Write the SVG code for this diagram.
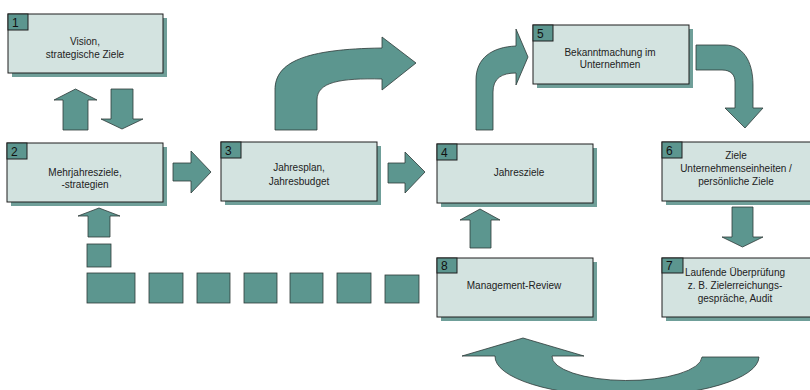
<svg xmlns="http://www.w3.org/2000/svg" width="810" height="390" viewBox="0 0 810 390">
<style>
.box{fill:#d3e3e0;stroke:#1e1e1e;stroke-width:1}
.shadow{fill:#6f9f99}
.num{fill:#5c968f;stroke:#1e1e1e;stroke-width:1}
.numt{font-family:"Liberation Sans",Arial,sans-serif;font-size:12px;fill:#111}
.t{font-family:"Liberation Sans",Arial,sans-serif;font-size:10px;fill:#222;text-anchor:middle}
.ar{fill:#5c968f;stroke:#2e3a38;stroke-width:0.8;stroke-linejoin:miter}
</style>
<rect width="810" height="390" fill="#ffffff"/>
<g id="connectors">
<polygon class="ar" points="75.5,89 97,100 88,100 88,130 63,130 63,100 54,100"/>
<polygon class="ar" points="111,89 133,89 133,119 143,119 122,129 101,119 111,119"/>
<polygon class="ar" points="173,163 191,163 191,151 211,172 191,193 191,181 173,181"/>
<polygon class="ar" points="388,163 405,163 405,152 425,172 405,193 405,183 388,183"/>
<polygon class="ar" points="99,208 120,216 110,216 110,237 88,237 88,216 78,216"/>
<polygon class="ar" points="480,209 500,220 491,220 491,248 470,248 470,220 460,220"/>
<polygon class="ar" points="732,207 753,207 753,237 763,237 742.5,247 722,237 732,237"/>
<path class="ar" d="M275,130 L275,90 C275,62 305,49 382,48 L382,37 L416,63 L382,90 L382,79 C340,78 317,82 317,100 L317,130 Z"/>
<path class="ar" d="M476,130 L476,80 C476,58 492,47 516,46 L516,29 L528,57 L516,85 L516,73 C502,73 493,78 493,92 L493,130 Z"/>
<path class="ar" d="M696,45 L725,45 C742,45 753,60 753,85 L753,108 L763,108 L745,128 L725,108 L735,108 L735,82 C735,75 731,70 722,70 L696,70 Z"/>
<path class="ar" d="M462,356 L523,338 L584,356 L552,356 A75,24 0 0 0 702,357 L759,357 A132,40 0 0 1 495,356 Z"/>
<rect class="ar" x="87" y="244" width="24" height="23"/>
<rect class="ar" x="87" y="273" width="48" height="30"/>
<rect class="ar" x="149" y="273" width="34" height="30"/>
<rect class="ar" x="197" y="273" width="33" height="30"/>
<rect class="ar" x="244" y="273" width="33" height="30"/>
<rect class="ar" x="290" y="273" width="33" height="30"/>
<rect class="ar" x="337" y="273" width="34" height="30"/>
<rect class="ar" x="385" y="275" width="34" height="28"/>
</g>
<g id="node1">
<rect class="shadow" x="12" y="18" width="155" height="59"/>
<rect class="box" x="8" y="14" width="155" height="59"/>
<rect class="num" x="8" y="14" width="20" height="16"/>
<text class="numt" x="12" y="27">1</text>
<text class="t" x="85" y="45">Vision,</text>
<text class="t" x="85" y="58">strategische Ziele</text>
</g>
<g id="node2">
<rect class="shadow" x="11" y="147" width="156" height="59"/>
<rect class="box" x="7" y="143" width="156" height="59"/>
<rect class="num" x="7" y="143" width="20" height="16"/>
<text class="numt" x="11" y="156">2</text>
<text class="t" x="85" y="175.5">Mehrjahresziele,</text>
<text class="t" x="85" y="187.5">-strategien</text>
</g>
<g id="node3">
<rect class="shadow" x="225" y="146" width="156" height="59"/>
<rect class="box" x="221" y="142" width="156" height="59"/>
<rect class="num" x="221" y="142" width="20" height="16"/>
<text class="numt" x="225" y="155">3</text>
<text class="t" x="299" y="170.5">Jahresplan,</text>
<text class="t" x="299" y="184.5">Jahresbudget</text>
</g>
<g id="node4">
<rect class="shadow" x="441" y="148" width="156" height="59"/>
<rect class="box" x="437" y="144" width="156" height="59"/>
<rect class="num" x="437" y="144" width="20" height="16"/>
<text class="numt" x="441" y="157">4</text>
<text class="t" x="519" y="175.5">Jahresziele</text>
</g>
<g id="node5">
<rect class="shadow" x="537" y="29" width="156" height="59"/>
<rect class="box" x="533" y="25" width="156" height="59"/>
<rect class="num" x="533" y="25" width="20" height="16"/>
<text class="numt" x="537" y="38">5</text>
<text class="t" x="610" y="55.5">Bekanntmachung im</text>
<text class="t" x="610" y="67.5">Unternehmen</text>
</g>
<g id="node6">
<rect class="shadow" x="666" y="146" width="156" height="59"/>
<rect class="box" x="662" y="142" width="156" height="59"/>
<rect class="num" x="662" y="142" width="20" height="16"/>
<text class="numt" x="666" y="155">6</text>
<text class="t" x="736" y="158.5">Ziele</text>
<text class="t" x="736" y="171.5">Unternehmenseinheiten /</text>
<text class="t" x="736" y="185">persönliche Ziele</text>
</g>
<g id="node7">
<rect class="shadow" x="666" y="262" width="156" height="59"/>
<rect class="box" x="662" y="258" width="156" height="59"/>
<rect class="num" x="662" y="258" width="21" height="15"/>
<text class="numt" x="666" y="270">7</text>
<text class="t" x="735" y="275.5">Laufende Überprüfung</text>
<text class="t" x="735" y="288.5">z. B. Zielerreichungs-</text>
<text class="t" x="735" y="301.5">gespräche, Audit</text>
</g>
<g id="node8">
<rect class="shadow" x="441" y="262" width="156" height="59"/>
<rect class="box" x="437" y="258" width="156" height="59"/>
<rect class="num" x="437" y="258" width="20" height="15"/>
<text class="numt" x="441" y="270">8</text>
<text class="t" x="514" y="288.5">Management-Review</text>
</g>
</svg>
